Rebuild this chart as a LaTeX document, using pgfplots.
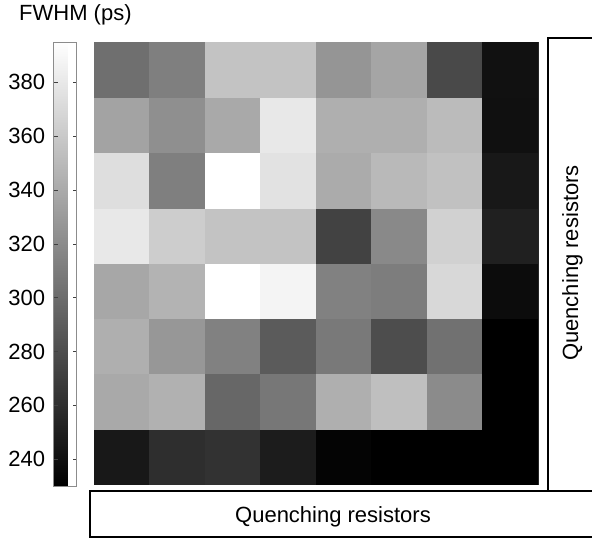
\documentclass[border=0pt]{standalone}
\usepackage{fontspec}
\setmainfont{Liberation Sans}
\usepackage{pgfplots}
\usepackage{pgfplotstable}
\pgfplotsset{compat=1.18}
\pgfplotstableread{
x y c
0 0 245.5
1 0 259.8
2 0 262.4
3 0 248.1
4 0 232.6
5 0 230.0
6 0 230.0
7 0 230.0
0 1 338.7
1 1 343.9
2 1 296.0
3 1 306.4
4 1 342.6
5 1 352.9
6 1 319.3
7 1 230.0
0 2 342.6
1 2 327.1
2 2 312.8
3 2 288.2
4 2 307.6
5 2 279.2
6 2 302.5
7 2 230.0
0 3 337.4
1 3 345.2
2 3 395.0
3 3 386.6
4 3 312.8
5 3 310.2
6 3 368.5
7 3 237.8
0 4 378.8
1 4 362.0
2 4 355.5
3 4 355.5
4 4 272.7
5 4 318.0
6 4 364.6
7 4 250.7
0 5 372.4
1 5 311.5
2 5 395.0
3 5 374.9
4 5 340.0
5 5 349.1
6 5 354.2
7 5 245.5
0 6 334.8
1 6 321.9
2 6 338.7
3 6 378.8
4 6 342.6
5 6 342.6
6 6 350.4
7 6 240.4
0 7 301.2
1 7 311.5
2 7 355.5
3 7 355.5
4 7 325.8
5 7 336.1
6 7 276.6
7 7 241.0
}\fwhmdata
\begin{document}
\begin{tikzpicture}[x=1pt,y=1pt]
\useasboundingbox (0,0) rectangle (592,539);
\begin{axis}[
  at={(94pt,55pt)}, anchor=south west,
  scale only axis, width=444pt, height=442pt,
  xmin=-0.5, xmax=7.5, ymin=-0.5, ymax=7.5,
  enlargelimits=false,
  xtick=\empty, ytick=\empty,
  axis line style={black!85, line width=0.8pt},
  colormap/blackwhite,
  point meta min=230, point meta max=395,
  colorbar,
  colorbar style={
    at={(parent axis.north west)}, anchor=north east, xshift=-26pt,
    scale only axis, width=23pt, height=444pt,
    ytick={240,260,...,380},
    ytick pos=both, yticklabel pos=left,
    tick align=inside, major tick length=4pt,
    tick style={black!75, line width=0.6pt},
    axis line style={black!45, line width=0.6pt},
    yticklabel style={font=\fontsize{22}{26}\selectfont, xshift=-5pt},
    /pgf/number format/assume math mode=true,
  },
]
\addplot[matrix plot*, mesh/cols=8, point meta=explicit] table[x=x, y=y, meta=c] {\fwhmdata};
\end{axis}
\node[anchor=base west, inner sep=0pt, font=\fontsize{22}{26}\selectfont] at (19,518.5) {FWHM (ps)};
\draw[line width=2pt] (600,501) -- (548,501) -- (548,48);
\draw[line width=2pt] (600,48) -- (90,48) -- (90,2) -- (600,2);
\node[anchor=base, inner sep=0pt, font=\fontsize{22}{26}\selectfont] at (333,16.3) {Quenching resistors};
\node[anchor=base, rotate=90, inner sep=0pt, font=\fontsize{22}{26}\selectfont] at (578,276) {Quenching resistors};
\end{tikzpicture}
\end{document}
